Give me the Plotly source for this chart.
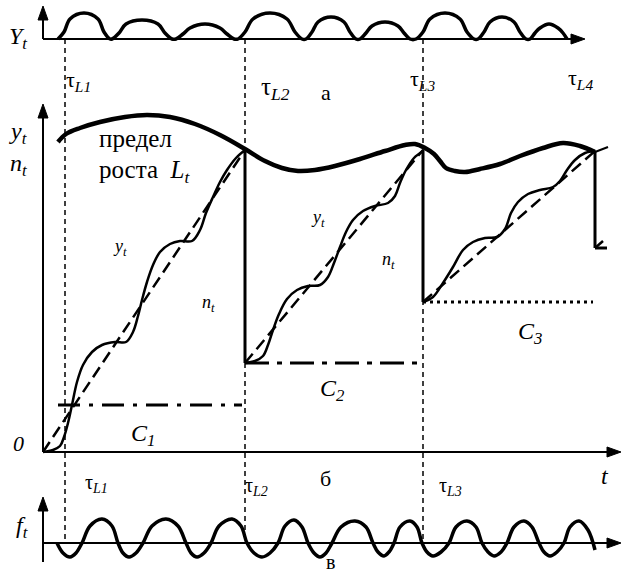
import plotly.graph_objects as go

# picture units: x to the right, y downwards (624 x 573)
FONT = "Liberation Serif"

# panel a: Y_t bumps
top_x = [58, 64, 70, 84, 98, 104, 110,
         112, 119, 126, 142, 158, 165, 172,
         176, 183, 190, 205, 220, 227, 234,
         238, 245, 253, 270, 287, 295, 302,
         306, 312, 318, 331, 344, 350, 356,
         360, 366, 372, 385, 398, 404, 410,
         416, 423, 430, 445, 460, 467, 474,
         478, 484, 490, 502, 514, 520, 526,
         530, 535, 540, 549, 558, 563, 567]
top_y = [39, 32, 19, 13, 19, 32, 39,
         39, 33, 24, 20, 24, 33, 39,
         39, 34, 28, 24, 28, 34, 39,
         39, 32, 19, 13, 19, 32, 39,
         39, 32, 22, 17, 22, 32, 39,
         39, 33, 26, 22, 26, 33, 39,
         39, 32, 19, 13, 19, 32, 39,
         39, 32, 22, 17, 22, 32, 39,
         39, 33, 28, 24, 28, 33, 39]

# panel б: growth limit L_t
lt_x = [58, 66, 80, 100, 125, 147, 170, 195, 220, 245, 265, 282, 298, 315,
        335, 360, 385, 405, 415, 425, 434, 440, 446, 455, 465, 480, 500, 520,
        543, 563, 580, 595]
lt_y = [142, 134, 128, 122, 117, 115, 117, 124, 135, 149, 161, 168, 171, 170,
        166, 159, 151, 145, 144, 148, 154, 161, 168, 171, 172, 169, 164, 156,
        148, 143, 146, 152]

# y_t in the three cycles
y1_x = [43, 53, 60, 64, 68, 72, 77, 83, 92, 102, 115, 126, 133, 138, 142,
        147, 153, 160, 170, 180, 192, 200, 206, 213, 220, 227, 236, 245]
y1_y = [452, 450, 446, 437, 423, 405, 382, 365, 352, 345, 342, 342, 332, 316,
        300, 282, 265, 252, 244, 241, 241, 230, 213, 197, 182, 170, 158, 150]
y2_x = [245, 255, 263, 268, 273, 279, 287, 297, 308, 320, 328, 334, 340, 346,
        353, 363, 375, 388, 395, 400, 406, 414, 423]
y2_y = [363, 361, 356, 345, 330, 314, 299, 290, 286, 285, 277, 263, 247, 232,
        220, 211, 206, 203, 196, 183, 170, 158, 151]
y3_x = [423, 433, 443, 453, 463, 473, 485, 497, 505, 511, 518, 528, 540, 553,
        560, 567, 575, 585, 595]
y3_y = [302, 297, 283, 267, 250, 242, 238, 237, 229, 213, 202, 194, 190, 187,
        181, 170, 160, 153, 151]

# n_t trends, drops and levels C_i
n_start = [(43, 452), (245, 363), (423, 302)]
n_end = [(245, 150), (423, 150), (595, 151)]
drop_x = [245, 423, 595]
drop_top = [150, 150, 152]
drop_bottom = [363, 302, 248]
c_level = [405, 363, 302]
c_from = [58, 245, 423]
c_to = [242, 423, 593]
c_dash = ["22px,9px,4px,9px", "24px,8px,5px,8px", "3px,4px"]

# panel в: f_t
f_x = [57, 63, 70, 76, 82, 90, 102, 112, 118, 123, 129, 136, 143, 152, 166,
       178, 186, 191, 197, 204, 211, 219, 232, 241, 247, 254, 262, 270, 278,
       285, 294, 302, 308, 314, 320, 326, 332, 341, 355, 366, 373, 378, 384,
       389, 394, 400, 410, 417, 422, 427, 433, 441, 449, 456, 467, 476, 482,
       488, 494, 501, 507, 514, 524, 532, 539, 544, 550, 557, 564, 570, 579,
       588, 595]
f_y = [543, 553, 557, 553, 543, 526, 519, 526, 543, 553, 557, 553, 543, 526,
       519, 526, 543, 553, 557, 553, 543, 526, 519, 526, 543, 553, 557, 553,
       543, 526, 520, 527, 543, 553, 557, 553, 543, 527, 521, 527, 543, 552,
       556, 552, 543, 527, 521, 527, 543, 552, 556, 552, 543, 527, 521, 527,
       543, 552, 556, 552, 543, 527, 521, 527, 543, 552, 556, 552, 543, 527,
       521, 530, 550]

tau_x = [65, 245, 423]
tau_bottom = [542, 540, 543]

fig = go.Figure()


def curve(x, y, width, dash="solid", shape="spline"):
    fig.add_trace(go.Scatter(x=x, y=y, mode="lines",
                             line=dict(color="black", width=width, dash=dash,
                                       shape=shape, smoothing=1.0),
                             hoverinfo="skip", showlegend=False))


curve(top_x, top_y, 3.5)
curve(lt_x, lt_y, 4.5)
curve([595, 608], [152, 147], 2, shape="linear")
curve(y1_x, y1_y, 2.5)
curve(y2_x, y2_y, 2.5)
curve(y3_x, y3_y, 2.5)
for (x0, y0), (x1, y1) in zip(n_start, n_end):
    curve([x0, x1], [y0, y1], 2.5, dash="12px,6px", shape="linear")
for x, t, b in zip(drop_x, drop_top, drop_bottom):
    curve([x, x], [t, b], 3, shape="linear")
curve([595, 607], [248, 248], 3, shape="linear")
curve([595, 603], [248, 241], 2.5, shape="linear")
for y, a, b, d in zip(c_level, c_from, c_to, c_dash):
    curve([a, b], [y, y], 3, dash=d, shape="linear")
curve(f_x, f_y, 3.5)

shapes = []
for x, b in zip(tau_x, tau_bottom):
    shapes.append(dict(type="line", x0=x, x1=x, y0=39, y1=b,
                       line=dict(color="black", width=1.5, dash="5px,4px")))

# axes with arrow heads: (x of vertical, its bottom, its top, right end, y of horizontal)
axes = [
    (43, 39, 18, 585, 39),
    (43, 452, 116, 621, 452),
    (43, 562, 509, 621, 543),
]
for xv, yb, yt, xr, yh in axes:
    shapes.append(dict(type="line", x0=xv, x1=xv, y0=yb, y1=yt,
                       line=dict(color="black", width=2)))
    shapes.append(dict(type="line", x0=xv, x1=xr - 10, y0=yh, y1=yh,
                       line=dict(color="black", width=2)))
    shapes.append(dict(type="path",
                       path=f"M {xv},{yt - 12} L {xv - 5},{yt + 2} L {xv + 5},{yt + 2} Z",
                       fillcolor="black", line=dict(color="black", width=1)))
    shapes.append(dict(type="path",
                       path=f"M {xr},{yh} L {xr - 14},{yh - 5} L {xr - 14},{yh + 5} Z",
                       fillcolor="black", line=dict(color="black", width=1)))
fig.update_layout(shapes=shapes)

labels = [
    ("<i>Y<sub>t</sub></i>", 18, 38, 24, "center"),
    ("τ<sub><i>L1</i></sub>", 78, 81, 22, "center"),
    ("τ<sub><i>L2</i></sub>", 275, 88, 25, "center"),
    ("а", 326, 92, 22, "center"),
    ("τ<sub><i>L3</i></sub>", 422, 80, 22, "center"),
    ("τ<sub><i>L4</i></sub>", 580, 79, 22, "center"),
    ("<i>y<sub>t</sub></i>", 18, 133, 24, "center"),
    ("<i>n<sub>t</sub></i>", 18, 165, 24, "center"),
    ("<i>0</i>", 18, 443, 22, "center"),
    ("предел", 97, 138, 25, "left"),
    ("роста  <i>L<sub>t</sub></i>", 97, 171, 25, "left"),
    ("<i>y<sub>t</sub></i>", 120, 247, 18, "center"),
    ("<i>n<sub>t</sub></i>", 208, 303, 18, "center"),
    ("<i>y<sub>t</sub></i>", 318, 218, 18, "center"),
    ("<i>n<sub>t</sub></i>", 388, 260, 18, "center"),
    ("<i>C<sub>1</sub></i>", 143, 435, 24, "center"),
    ("<i>C<sub>2</sub></i>", 332, 390, 24, "center"),
    ("<i>C<sub>3</sub></i>", 530, 333, 24, "center"),
    ("τ<sub><i>L1</i></sub>", 96, 483, 20, "center"),
    ("τ<sub><i>L2</i></sub>", 256, 486, 20, "center"),
    ("б", 325, 478, 22, "center"),
    ("τ<sub><i>L3</i></sub>", 450, 486, 20, "center"),
    ("<i>t</i>", 605, 476, 24, "center"),
    ("<i>f<sub>t</sub></i>", 22, 527, 24, "center"),
    ("в", 330, 562, 20, "center"),
]
for text, x, y, size, anchor in labels:
    fig.add_annotation(x=x, y=y, text=text, showarrow=False,
                       xanchor=anchor, yanchor="middle",
                       font=dict(family=FONT, size=size, color="black"))

fig.update_layout(
    width=624, height=573,
    margin=dict(l=0, r=0, t=0, b=0),
    paper_bgcolor="white", plot_bgcolor="white",
    xaxis=dict(range=[0, 624], visible=False, fixedrange=True),
    yaxis=dict(range=[573, 0], visible=False, fixedrange=True),
)

fig.write_html("out.html", config={"displayModeBar": False},
               post_script="document.body.style.margin='0';")
